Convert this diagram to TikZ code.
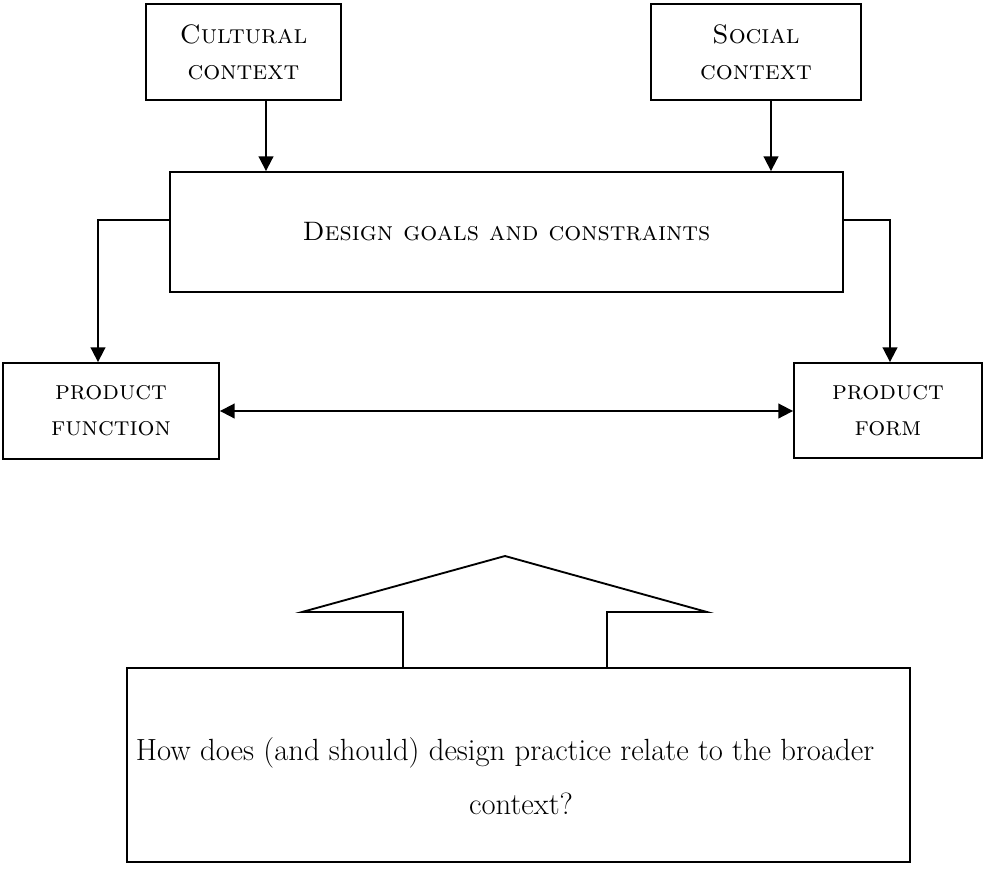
\documentclass[tikz,border=0pt]{standalone}
\usetikzlibrary{arrows.meta}
\begin{document}
\begin{tikzpicture}[x=0.75pt,y=-0.75pt,
  box/.style={draw=black, line width=1.4pt, rectangle, inner sep=2pt, align=center,
    font=\fontsize{20}{27}\selectfont},
  link/.style={line width=1.4pt, -{Triangle[length=11pt,width=11pt]}},
  biarrow/.style={line width=1.4pt, {Triangle[length=11pt,width=11pt]}-{Triangle[length=11pt,width=11pt]}},
  outline/.style={line width=1.4pt, line join=miter}]
\useasboundingbox (0,0) rectangle (985,893);

% context boxes
\node[box, minimum width=146.25pt, minimum height=72pt] (cult) at (243.5,52)
  {\textsc{Cultural}\\\textsc{context}};
\node[box, minimum width=157.5pt, minimum height=72pt] (soc) at (756,52)
  {\textsc{Social}\\\textsc{context}};

% central box
\node[box, minimum width=504.75pt, minimum height=90pt] (main) at (506.5,232)
  {\textsc{Design goals and constraints}};

% product boxes
\node[box, minimum width=162pt, minimum height=72pt] (func) at (111,411)
  {\textsc{product}\\\textsc{function}};
\node[box, minimum width=141pt, minimum height=71.25pt] (form) at (888,410.5)
  {\textsc{product}\\\textsc{form}};

% question box
\node[box, minimum width=587.25pt, minimum height=145.5pt] (qbox) at (518.5,765) {};
\node[align=center, font=\fontsize{23}{41}\selectfont] (qtext) at (505,776)
  {How does (and should) design practice relate to the broader\\\hspace*{24pt}context?};

% connectors
\draw[link] (cult.south -| 266,0) -- (main.north -| 266,0);
\draw[link] (soc.south -| 771,0) -- (main.north -| 771,0);
\draw[link] (main.west |- 0,220) -| (func.north -| 98,0);
\draw[link] (main.east |- 0,220) -| (form.north -| 890,0);
\draw[biarrow] (func.east) -- (func.east -| form.west);

% block arrow rising from the question box
\draw[outline] (qbox.north -| 403,0) -- (403,612) -- (302,612) -- (505,556)
  -- (707,612) -- (607,612) -- (qbox.north -| 607,0);
\end{tikzpicture}
\end{document}
